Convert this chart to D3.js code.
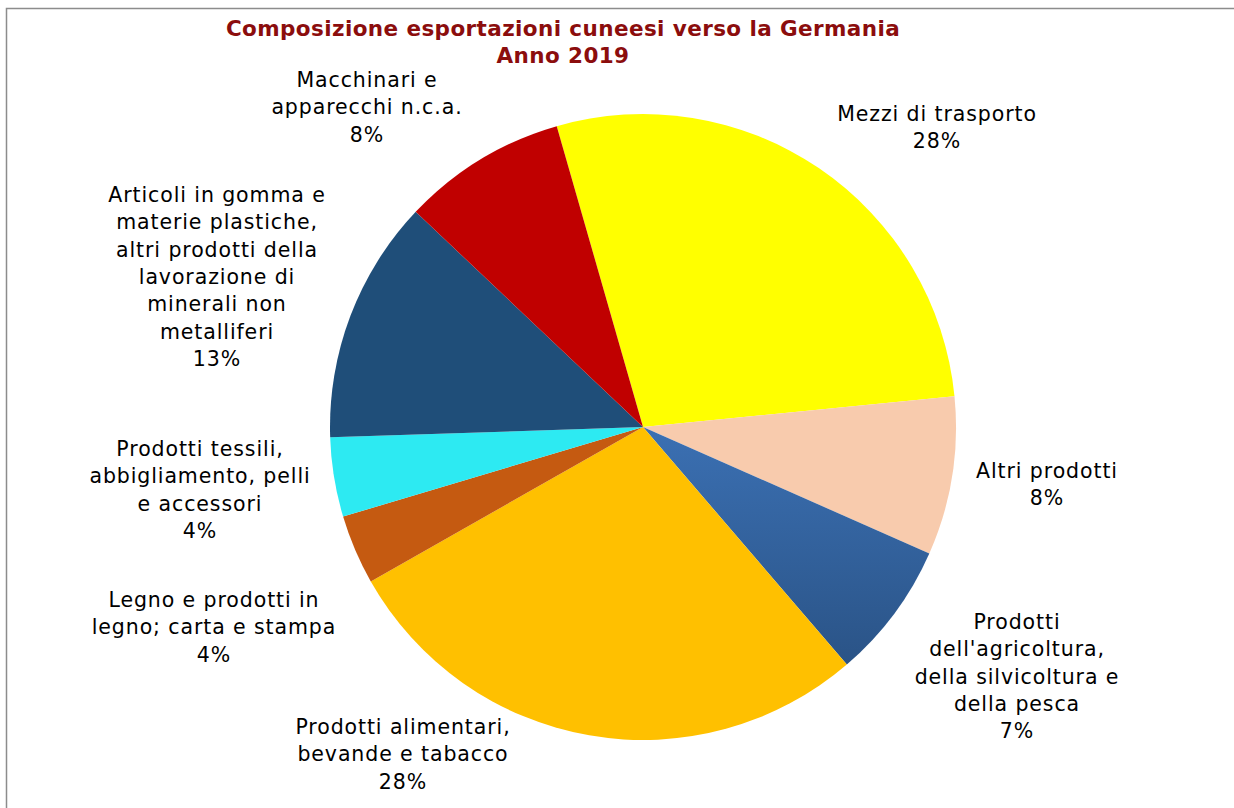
<!DOCTYPE html>
<html><head><meta charset="utf-8">
<script src="https://cdn.jsdelivr.net/npm/d3@7"></script>
<style>
html,body{margin:0;padding:0;background:#fff;}
svg{display:block;}
text{font-family:"DejaVu Sans",Verdana,sans-serif;}
</style></head>
<body><svg id="c" width="1234" height="808"></svg>
<script>
// Data (clockwise order, starting at the red/yellow border)
const categories = [
  "Mezzi di trasporto",
  "Altri prodotti",
  "Prodotti dell'agricoltura, della silvicoltura e della pesca",
  "Prodotti alimentari, bevande e tabacco",
  "Legno e prodotti in legno; carta e stampa",
  "Prodotti tessili, abbigliamento, pelli e accessori",
  "Articoli in gomma e materie plastiche, altri prodotti della lavorazione di minerali non metalliferi",
  "Macchinari e apparecchi n.c.a."
];
const values = [27.9, 8.2, 7.1, 28.1, 3.6, 4.1, 12.6, 8.5];
const percentLabels = ["28%", "8%", "7%", "28%", "4%", "4%", "13%", "8%"];
const labelLines = [
  ["Mezzi di trasporto"],
  ["Altri prodotti"],
  ["Prodotti", "dell'agricoltura,", "della silvicoltura e", "della pesca"],
  ["Prodotti alimentari,", "bevande e tabacco"],
  ["Legno e prodotti in", "legno; carta e stampa"],
  ["Prodotti tessili,", "abbigliamento, pelli", "e accessori"],
  ["Articoli in gomma e", "materie plastiche,", "altri prodotti della", "lavorazione di", "minerali non", "metalliferi"],
  ["Macchinari e", "apparecchi n.c.a."]
];
const colors = ["#FFFF00", "#F8CBAD", "url(#gBlue)", "#FFC000", "#C55A11", "#2DEAF2", "#1F4E79", "#C00000"];

// Layout (not data): label block anchors relative to pie centre (first line centre)
const labelAnchor = [
  [294, -313], [404, 44], [374, 195], [-240, 300],
  [-429, 173], [-443, 22], [-426, -232], [-276, -347]
];

const svg = d3.select("#c");
const W = 1234, H = 808;
const cx = 643, cy = 427, R = 313;

// frame
svg.append("rect").attr("x", 6.5).attr("y", 8.5).attr("width", W + 20).attr("height", H + 20)
  .attr("fill", "none").attr("stroke", "#8c8c8c").attr("stroke-width", 1.5);

const defs = svg.append("defs");
const gb = defs.append("linearGradient").attr("id", "gBlue")
  .attr("gradientUnits", "userSpaceOnUse").attr("x1", 0).attr("y1", 0).attr("x2", 0).attr("y2", 240);
gb.append("stop").attr("offset", "0").attr("stop-color", "#3B70B3");
gb.append("stop").attr("offset", "1").attr("stop-color", "#2A5386");

// title
const title = svg.append("text").attr("x", 563).attr("text-anchor", "middle")
  .attr("fill", "#8B0D0D").attr("font-weight", "bold").attr("font-size", 21.5)
  .attr("letter-spacing", 0.4);
title.append("tspan").attr("x", 563).attr("y", 36).text("Composizione esportazioni cuneesi verso la Germania");
title.append("tspan").attr("x", 563).attr("y", 63).text("Anno 2019");

const start = -16 * Math.PI / 180;
const pie = d3.pie().sort(null).value(d => d).startAngle(start).endAngle(start + 2 * Math.PI);
const arcs = pie(values);
const arc = d3.arc().innerRadius(0).outerRadius(R);

const g = svg.append("g").attr("transform", `translate(${cx},${cy})`);
g.selectAll("path").data(arcs).join("path")
  .attr("d", arc)
  .attr("fill", (d, i) => colors[i]);

// labels
const lh = 27.3;
const lg = svg.append("g").attr("font-size", 20.5).attr("letter-spacing", 0.9)
  .attr("fill", "#000").attr("text-anchor", "middle");
labelLines.forEach((lines, i) => {
  const all = lines.concat([percentLabels[i]]);
  const x = cx + labelAnchor[i][0];
  const y0 = cy + labelAnchor[i][1];
  const t = lg.append("text").attr("dominant-baseline", "central");
  all.forEach((s, k) => {
    t.append("tspan").attr("x", x).attr("y", y0 + k * lh).text(s);
  });
});
</script></body></html>
